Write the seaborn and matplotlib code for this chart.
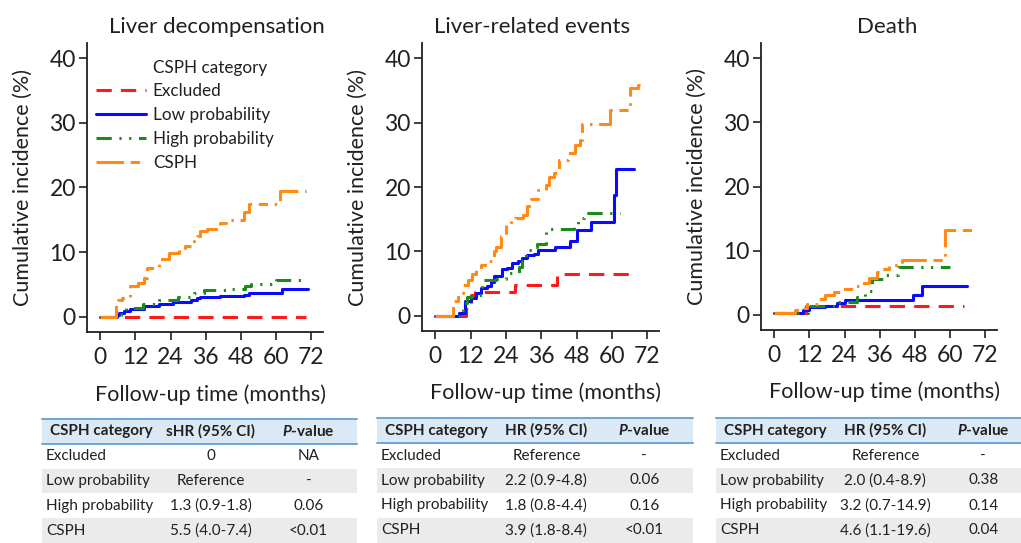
import pandas as pd
import matplotlib
matplotlib.use("Agg")
import matplotlib.pyplot as plt
import seaborn as sns
from matplotlib.lines import Line2D

# ---- data ----
CATEGORIES = ["Excluded", "Low probability", "High probability", "CSPH"]
TITLES = ["Liver decompensation", "Liver-related events", "Death"]

# step curves: (follow-up months, cumulative incidence %)
decomp_curves = {
    "Excluded": ([0, 70.3], [0, 0]),
    "Low probability": ([0, 5.8, 6.5, 8.0, 10.0, 14.8, 20.0, 25.0, 31.0, 33.0, 34.0, 41.0, 49.0, 50.6, 62.0, 71.0],
                        [0, 0.3, 0.5, 0.8, 1.1, 1.6, 1.9, 2.2, 2.6, 2.8, 3.0, 3.15, 3.4, 3.7, 4.3, 4.3]),
    "High probability": ([0, 5.8, 7.0, 8.8, 14.5, 19.9, 26.6, 31.9, 35.5, 43.0, 49.5, 51.6, 60.0, 69.4],
                         [0, 0.3, 0.8, 1.35, 1.9, 2.5, 3.1, 3.7, 4.1, 4.3, 4.8, 5.1, 5.7, 5.7]),
    "CSPH": ([0, 5.5, 6.0, 7.4, 10.2, 13.0, 14.8, 16.1, 19.9, 23.5, 27.0, 29.0, 31.9, 33.0, 34.0, 36.5,
              41.0, 43.0, 49.0, 50.6, 61.4, 70.3],
             [0, 2.1, 2.6, 2.9, 4.7, 5.2, 6.0, 7.5, 8.9, 9.9, 10.6, 11.0, 11.7, 12.5, 13.2, 13.5,
              14.5, 15.0, 16.2, 17.5, 19.5, 19.5]),
}
lre_curves = {
    "Excluded": ([0, 10.4, 12.0, 13.5, 27.0, 41.4, 67.6], [0, 1.0, 3.2, 3.7, 4.8, 6.4, 6.4]),
    "Low probability": ([0, 8.2, 10.2, 12.0, 14.0, 15.7, 17.5, 18.8, 20.0, 22.6, 24.5, 26.0, 28.0, 29.6, 31.0,
                         33.7, 35.0, 40.7, 45.8, 48.3, 52.9, 60.8, 61.3, 67.5],
                        [0, 0.4, 2.3, 2.7, 3.5, 4.3, 4.6, 5.3, 6.2, 7.2, 7.4, 8.2, 8.5, 8.9, 9.4,
                         9.6, 10.2, 10.7, 11.6, 13.3, 14.5, 18.8, 22.8, 22.8]),
    "High probability": ([0, 9.5, 10.8, 12.5, 16.0, 20.5, 24.0, 28.5, 29.5, 30.7, 33.5, 34.5, 37.6, 47.1, 48.5,
                          50.5, 62.7],
                         [0, 2.0, 2.9, 3.2, 5.5, 5.7, 6.7, 7.5, 8.5, 10.2, 10.6, 11.2, 13.4, 13.8, 15.2,
                          15.9, 15.9]),
    "CSPH": ([0, 5.9, 7.6, 9.3, 11.0, 12.5, 14.0, 15.5, 17.0, 19.8, 20.5, 22.4, 24.1, 25.8, 27.0, 29.8, 31.0,
              32.6, 35.0, 37.5, 38.7, 40.4, 42.1, 45.0, 47.3, 49.0, 50.0, 59.5, 66.2, 68.8, 69.6],
             [0, 2.2, 3.5, 4.8, 5.6, 6.5, 7.2, 7.8, 8.5, 10.0, 10.7, 12.3, 14.2, 15.0, 15.2, 15.7, 17.0,
              18.1, 19.6, 20.3, 21.6, 22.1, 24.2, 25.3, 26.6, 27.3, 29.8, 32.0, 35.4, 35.9, 35.9]),
}
death_curves = {
    "Excluded": ([0, 11.0, 64.6], [0.3, 1.3, 1.3]),
    "Low probability": ([0, 9.8, 12.0, 17.3, 21.4, 24.3, 47.2, 50.3, 65.9],
                        [0.3, 0.8, 1.15, 1.4, 1.8, 2.3, 3.1, 4.5, 4.5]),
    "High probability": ([0, 11.5, 21.4, 28.2, 31.0, 33.3, 38.0, 42.3, 60.0],
                         [0.3, 1.4, 1.9, 2.7, 3.7, 5.6, 6.2, 7.5, 7.5]),
    "CSPH": ([0, 7.2, 9.4, 11.2, 15.1, 17.4, 20.3, 22.5, 27.2, 29.9, 32.2, 35.0, 36.8, 39.0, 43.6, 58.1, 67.5],
             [0.3, 0.7, 1.0, 1.7, 2.4, 3.1, 3.5, 4.0, 4.4, 5.0, 5.7, 6.6, 7.1, 7.7, 8.5, 13.2, 13.2]),
}

# hazard ratio tables under each panel
hr_headers = ["sHR (95% CI)", "HR (95% CI)", "HR (95% CI)"]
decomp_hr = ["0", "Reference", "1.3 (0.9-1.8)", "5.5 (4.0-7.4)"]
decomp_p = ["NA", "-", "0.06", "<0.01"]
lre_hr = ["Reference", "2.2 (0.9-4.8)", "1.8 (0.8-4.4)", "3.9 (1.8-8.4)"]
lre_p = ["-", "0.06", "0.16", "<0.01"]
death_hr = ["Reference", "2.0 (0.4-8.9)", "3.2 (0.7-14.9)", "4.6 (1.1-19.6)"]
death_p = ["-", "0.38", "0.14", "0.04"]

# ---- styling ----
INK = "#231f20"
COLORS = {"Excluded": "#ff1a1a", "Low probability": "#0a0aff",
          "High probability": "#1a8a1a", "CSPH": "#ff8a14"}
DASHES = {"Excluded": (5, 3), "Low probability": "",
          "High probability": (5, 2.5, 0.7, 2.5, 0.7, 2.5),
          "CSPH": (9, 2.2, 3, 2.2, 0.8, 2.2)}

sns.set_style("ticks")
plt.rcParams["font.family"] = ["Lato", "DejaVu Sans"]
plt.rcParams["mathtext.fontset"] = "custom"
plt.rcParams["mathtext.it"] = "Lato:bold:italic"
plt.rcParams["mathtext.rm"] = "Lato:bold"
for key in ["text.color", "axes.labelcolor", "xtick.color", "ytick.color", "axes.edgecolor"]:
    plt.rcParams[key] = INK

W, H = 1021, 543
fig = plt.figure(figsize=(W / 100, H / 100), dpi=100)


def px_axes(left, top, right, bottom):
    return fig.add_axes([left / W, 1 - bottom / H, (right - left) / W, (bottom - top) / H])


def curve_frame(curves):
    parts = []
    for cat in CATEGORIES:
        t, y = curves[cat]
        parts.append(pd.DataFrame({"time": t, "inc": y, "cat": cat}))
    return pd.concat(parts, ignore_index=True)


panel_boxes = [(87, 43, 323, 332), (422, 43, 659, 331), (761, 43, 997, 330)]
title_x = [0.55, 0.463, 0.536]
all_curves = [decomp_curves, lre_curves, death_curves]

axes = []
for i, (box, curves) in enumerate(zip(panel_boxes, all_curves)):
    ax = px_axes(*box)
    sns.lineplot(data=curve_frame(curves), x="time", y="inc", hue="cat", style="cat",
                 hue_order=CATEGORIES, style_order=CATEGORIES, palette=COLORS, dashes=DASHES,
                 estimator=None, sort=False, drawstyle="steps-post", linewidth=2.2,
                 legend=False, ax=ax)
    ax.set_xlim(-4.5, 76)
    ax.set_ylim(-2.4, 42.4)
    ax.set_xticks(range(0, 73, 12))
    ax.set_yticks(range(0, 41, 10))
    sns.despine(ax=ax)
    for s in ["left", "bottom"]:
        ax.spines[s].set_linewidth(1.3)
    ax.tick_params(axis="both", direction="out", length=6, width=1.2, labelsize=16.5)
    ax.tick_params(axis="y", pad=2)
    ax.tick_params(axis="x", pad=5)
    ax.set_xlabel("Follow-up time (months)", fontsize=15.5)
    ax.xaxis.set_label_coords(0.522, -0.18)
    ax.set_ylabel("Cumulative incidence (%)", fontsize=15.5)
    ax.yaxis.set_label_coords(-0.23, 0.5)
    ax.set_title(TITLES[i], fontsize=16, x=title_x[i], pad=7)
    axes.append(ax)

# legend in first panel, with the title set as a text-only first entry
lines = axes[0].get_lines()[:4]
head = Line2D([], [], linestyle="none")
axes[0].legend([head] + list(lines), ["CSPH category"] + CATEGORIES, loc="upper left",
               bbox_to_anchor=(0.04, 0.942), frameon=False, fontsize=12.3, handlelength=2.9,
               handletextpad=0.4, labelspacing=0.45, borderpad=0, borderaxespad=0)

# ---- tables ----
table_boxes = [(42, 419, 357, 543), (377, 418, 693, 543), (716, 418, 1032, 543)]
table_hr = [decomp_hr, lre_hr, death_hr]
table_p = [decomp_p, lre_p, death_p]
HEAD_BG = "#dbe9f6"
HEAD_LINE = "#6aa5d8"
ROW_BG = "#ebebeb"

for box, hdr, hrs, ps in zip(table_boxes, hr_headers, table_hr, table_p):
    tax = px_axes(*box)
    tax.set_xlim(0, 1)
    tax.set_ylim(5, 0)
    tax.axis("off")
    tax.axhspan(0, 1, color=HEAD_BG, lw=0)
    tax.axhspan(2, 3, color=ROW_BG, lw=0)
    tax.axhspan(4, 5, color=ROW_BG, lw=0)
    tax.axhline(0, color=HEAD_LINE, lw=1.4, clip_on=False)
    tax.axhline(1, color=HEAD_LINE, lw=1.4, clip_on=False)
    tax.text(0.025, 0.5, "CSPH category", ha="left", va="center", fontsize=11, fontweight="bold")
    tax.text(0.536, 0.5, hdr, ha="center", va="center", fontsize=11, fontweight="bold")
    tax.text(0.846, 0.5, "$P$-value", ha="center", va="center", fontsize=11, fontweight="bold")
    for r, (cat, hr, p) in enumerate(zip(CATEGORIES, hrs, ps), start=1):
        tax.text(0.013, r + 0.5, cat, ha="left", va="center", fontsize=11)
        tax.text(0.536, r + 0.5, hr, ha="center", va="center", fontsize=11)
        tax.text(0.846, r + 0.5, p, ha="center", va="center", fontsize=11)

fig.savefig("out.png", dpi=100)
